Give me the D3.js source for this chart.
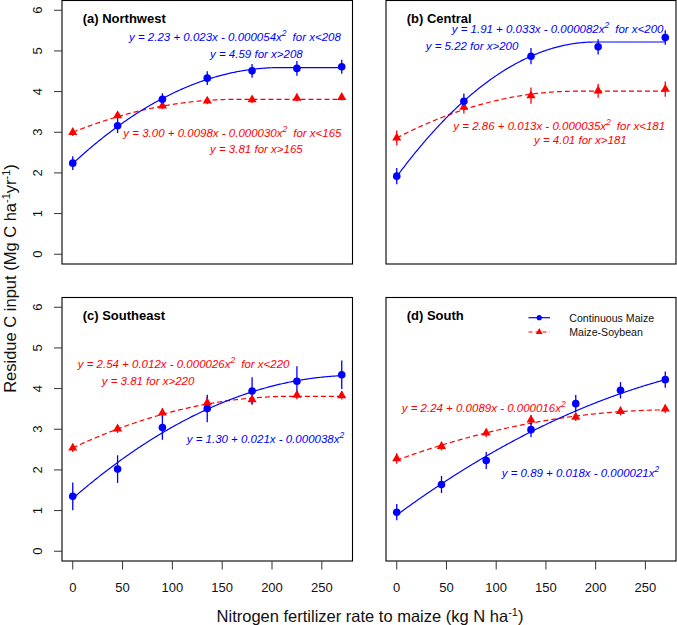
<!DOCTYPE html>
<html><head><meta charset="utf-8">
<script src="https://cdn.jsdelivr.net/npm/d3@7"></script>
<style>body{margin:0;background:#fff}svg{display:block}text{font-family:"Liberation Sans",Arial,sans-serif}</style>
</head><body>
<script>
// ---------------- DATA ----------------
const panelTitles = ["(a) Northwest", "(b) Central", "(c) Southeast", "(d) South"];
const nRates = [0, 45, 90, 135, 180, 225, 270];
const nRatesCentral = [0, 67.5, 135, 202.5, 270];
const xTicks = [0, 50, 100, 150, 200, 250];
const yTicks = [0, 1, 2, 3, 4, 5, 6];
const seriesNames = ["Continuous Maize", "Maize-Soybean"];

// Continuous maize (CM) and maize-soybean (MS) residue C input, with error bars
const cmNorthwest   = [2.24, 3.16, 3.81, 4.33, 4.51, 4.57, 4.61];
const cmNorthwestSE = [0.17, 0.18, 0.15, 0.17, 0.17, 0.18, 0.17];
const msNorthwest   = [3.00, 3.41, 3.65, 3.77, 3.80, 3.84, 3.86];
const msNorthwestSE = [0.09, 0.08, 0.08, 0.08, 0.08, 0.08, 0.08];

const cmCentral   = [1.92, 3.76, 4.87, 5.10, 5.33];
const cmCentralSE = [0.20, 0.19, 0.20, 0.19, 0.18];
const msCentral   = [2.86, 3.62, 3.90, 4.02, 4.06];
const msCentralSE = [0.18, 0.16, 0.20, 0.17, 0.19];

const cmSoutheast   = [1.35, 2.02, 3.04, 3.51, 3.94, 4.18, 4.34];
const cmSoutheastSE = [0.34, 0.34, 0.30, 0.34, 0.34, 0.37, 0.35];
const msSoutheast   = [2.54, 3.01, 3.40, 3.65, 3.73, 3.84, 3.83];
const msSoutheastSE = [0.10, 0.10, 0.12, 0.15, 0.10, 0.10, 0.10];

const cmSouth   = [0.96, 1.64, 2.23, 2.99, 3.63, 3.96, 4.22];
const cmSouthSE = [0.20, 0.21, 0.21, 0.18, 0.21, 0.20, 0.20];
const msSouth   = [2.28, 2.58, 2.91, 3.23, 3.30, 3.44, 3.50];
const msSouthSE = [0.13, 0.10, 0.10, 0.12, 0.10, 0.10, 0.10];

// Fitted models: quadratic-plateau [intercept, plateau, join] or quadratic [a, b, c]
const fitNorthwestCM = {type: "qp", a: 2.23, plateau: 4.59, join: 208};
const fitNorthwestMS = {type: "qp", a: 3.00, plateau: 3.81, join: 165};
const fitCentralCM   = {type: "qp", a: 1.91, plateau: 5.22, join: 200};
const fitCentralMS   = {type: "qp", a: 2.86, plateau: 4.01, join: 181};
const fitSoutheastCM = {type: "q", a: 1.30, b: 0.0213, c: -0.0000375};
const fitSoutheastMS = {type: "qp", a: 2.54, plateau: 3.81, join: 220};
const fitSouthCM     = {type: "q", a: 0.89, b: 0.018, c: -0.000021};
const fitSouthMS     = {type: "q", a: 2.24, b: 0.0089, c: -0.000016};

// Equation labels: [before superscript, superscript, after]
const eqNorthwestCM = [["y = 2.23 + 0.023x - 0.000054x", "2", "for x<208"], ["y = 4.59 for x>208"]];
const eqNorthwestMS = [["y = 3.00 + 0.0098x - 0.000030x", "2", "for x<165"], ["y = 3.81 for x>165"]];
const eqCentralCM   = [["y = 1.91 + 0.033x - 0.000082x", "2", "for x<200"], ["y = 5.22 for x>200"]];
const eqCentralMS   = [["y = 2.86 + 0.013x - 0.000035x", "2", "for x<181"], ["y = 4.01 for x>181"]];
const eqSoutheastMS = [["y = 2.54 + 0.012x - 0.000026x", "2", "for x<220"], ["y = 3.81 for x>220"]];
const eqSoutheastCM = [["y = 1.30 + 0.021x - 0.000038x", "2", ""]];
const eqSouthMS     = [["y = 2.24 + 0.0089x - 0.000016x", "2", ""]];
const eqSouthCM     = [["y = 0.89 + 0.018x - 0.000021x", "2", ""]];

// ---------------- LAYOUT ----------------
const W = 677, H = 625;
const BLUE = "#0000ff", RED = "#ff0000";
const cols = [[62, 352.5], [386, 676]];
const rows = [[0.5, 264], [297.5, 561]];

const panels = [
  {title: panelTitles[0], col: 0, row: 0, x: nRates, cm: cmNorthwest, cmSE: cmNorthwestSE, ms: msNorthwest, msSE: msNorthwestSE,
   fitCM: fitNorthwestCM, fitMS: fitNorthwestMS,
   eqs: [{lines: eqNorthwestCM, color: BLUE, pos: [[129, 40.5], [210, 58]]},
         {lines: eqNorthwestMS, color: RED, pos: [[123.3, 137], [210, 153]]}]},
  {title: panelTitles[1], col: 1, row: 0, x: nRatesCentral, cm: cmCentral, cmSE: cmCentralSE, ms: msCentral, msSE: msCentralSE,
   fitCM: fitCentralCM, fitMS: fitCentralMS,
   eqs: [{lines: eqCentralCM, color: BLUE, pos: [[451.7, 32.5], [425.7, 50]]},
         {lines: eqCentralMS, color: RED, pos: [[453.3, 130], [534, 144]]}]},
  {title: panelTitles[2], col: 0, row: 1, x: nRates, cm: cmSoutheast, cmSE: cmSoutheastSE, ms: msSoutheast, msSE: msSoutheastSE,
   fitCM: fitSoutheastCM, fitMS: fitSoutheastMS,
   eqs: [{lines: eqSoutheastMS, color: RED, pos: [[77.7, 368], [101.7, 384.5]]},
         {lines: eqSoutheastCM, color: BLUE, pos: [[186.7, 443]]}]},
  {title: panelTitles[3], col: 1, row: 1, x: nRates, cm: cmSouth, cmSE: cmSouthSE, ms: msSouth, msSE: msSouthSE,
   fitCM: fitSouthCM, fitMS: fitSouthMS,
   eqs: [{lines: eqSouthMS, color: RED, pos: [[401.7, 411.5]]},
         {lines: eqSouthCM, color: BLUE, pos: [[501.7, 476.5]]}], legend: true}
];

function fitValue(f, x) {
  if (f.type === "qp") {
    const m = Math.min(x, f.join);
    return f.plateau - (f.plateau - f.a) * Math.pow(1 - m / f.join, 2);
  }
  return f.a + f.b * x + f.c * x * x;
}

const svg = d3.select("body").append("svg").attr("width", W).attr("height", H);
const triangle = d3.symbol().type(d3.symbolTriangle).size(36);

panels.forEach(p => {
  const [x0, x1] = cols[p.col], [y0, y1] = rows[p.row];
  const xs = d3.scaleLinear().domain([-10.8, 280.8]).range([x0, x1]);
  const ys = d3.scaleLinear().domain([-0.24, 6.24]).range([y1, y0]);
  const g = svg.append("g");

  // fitted curves
  const grid = d3.range(0, 270.01, 1);
  const lineGen = f => d3.line().x(d => xs(d)).y(d => ys(fitValue(f, d)))(grid);
  g.append("path").attr("d", lineGen(p.fitMS)).attr("fill", "none")
    .attr("stroke", RED).attr("stroke-width", 1.2).attr("stroke-dasharray", "5,3");
  g.append("path").attr("d", lineGen(p.fitCM)).attr("fill", "none")
    .attr("stroke", BLUE).attr("stroke-width", 1.2);

  // error bars
  const eb = (vals, se, color) => {
    g.selectAll(null).data(vals).enter().append("line")
      .attr("x1", (d, i) => xs(p.x[i])).attr("x2", (d, i) => xs(p.x[i]))
      .attr("y1", (d, i) => ys(d - se[i])).attr("y2", (d, i) => ys(d + se[i]))
      .attr("stroke", color).attr("stroke-width", 1.3);
  };
  eb(p.ms, p.msSE, RED);
  eb(p.cm, p.cmSE, BLUE);

  // points
  g.selectAll(null).data(p.ms).enter().append("path")
    .attr("d", triangle).attr("fill", RED)
    .attr("transform", (d, i) => `translate(${xs(p.x[i])},${ys(d)})`);
  g.selectAll(null).data(p.cm).enter().append("circle")
    .attr("cx", (d, i) => xs(p.x[i])).attr("cy", d => ys(d)).attr("r", 3.8).attr("fill", BLUE);

  // box
  g.append("rect").attr("x", x0).attr("y", y0).attr("width", x1 - x0).attr("height", y1 - y0)
    .attr("fill", "none").attr("stroke", "#000").attr("stroke-width", 1.1);

  // title
  g.append("text").attr("x", x0 + 20.7).attr("y", y0 + 22)
    .attr("font-size", 13).attr("font-weight", "bold").attr("fill", "#000").text(p.title);

  // equations
  p.eqs.forEach(eq => {
    eq.lines.forEach((ln, k) => {
      const t = g.append("text").attr("x", eq.pos[k][0]).attr("y", eq.pos[k][1])
        .attr("font-size", 11.5).attr("font-style", "italic").attr("fill", eq.color);
      t.append("tspan").text(ln[0]);
      if (ln.length > 1) {
        t.append("tspan").attr("dy", -5).attr("font-size", 8.5).text(ln[1]);
        if (ln[2]) t.append("tspan").attr("dy", 5).attr("dx", 6).text(ln[2]);
      }
    });
  });

  // y axis (left column)
  if (p.col === 0) {
    yTicks.forEach(v => {
      g.append("line").attr("x1", x0).attr("x2", x0 - 8).attr("y1", ys(v)).attr("y2", ys(v))
        .attr("stroke", "#333").attr("stroke-width", 1);
      g.append("text").attr("transform", `translate(41.5,${ys(v)}) rotate(-90)`)
        .attr("text-anchor", "middle").attr("font-size", 13).attr("fill", "#111").text(v);
    });
  }
  // x axis (bottom row)
  if (p.row === 1) {
    xTicks.forEach(v => {
      g.append("line").attr("x1", xs(v)).attr("x2", xs(v)).attr("y1", y1).attr("y2", y1 + 8.5)
        .attr("stroke", "#333").attr("stroke-width", 1);
      g.append("text").attr("x", xs(v)).attr("y", 591.5).attr("text-anchor", "middle")
        .attr("font-size", 13).attr("fill", "#111").text(v);
    });
  }

  // legend
  if (p.legend) {
    const lx0 = 528.5, lx1 = 550, tx = 569.3;
    const ly = [317.7, 332];
    g.append("line").attr("x1", lx0).attr("x2", lx1).attr("y1", ly[0]).attr("y2", ly[0])
      .attr("stroke", BLUE).attr("stroke-width", 1.2);
    g.append("circle").attr("cx", (lx0 + lx1) / 2).attr("cy", ly[0]).attr("r", 2.6).attr("fill", BLUE);
    g.append("line").attr("x1", lx0).attr("x2", lx1).attr("y1", ly[1]).attr("y2", ly[1])
      .attr("stroke", RED).attr("stroke-width", 1.2).attr("stroke-dasharray", "4,3");
    g.append("path").attr("d", d3.symbol().type(d3.symbolTriangle).size(20)())
      .attr("transform", `translate(${(lx0 + lx1) / 2},${ly[1]})`).attr("fill", RED);
    seriesNames.forEach((s, i) => {
      g.append("text").attr("x", tx).attr("y", ly[i] + 3.8).attr("font-size", 10.6)
        .attr("fill", "#111").text(s);
    });
  }
});

// axis titles
const yt = svg.append("text").attr("transform", "translate(15.5,278.5) rotate(-90)")
  .attr("text-anchor", "middle").attr("font-size", 16.5).attr("fill", "#111");
yt.append("tspan").text("Residue C input (Mg C ha");
yt.append("tspan").attr("dy", -6).attr("font-size", 11).text("-1");
yt.append("tspan").attr("dy", 6).text("yr");
yt.append("tspan").attr("dy", -6).attr("font-size", 11).text("-1");
yt.append("tspan").attr("dy", 6).text(")");

const xt = svg.append("text").attr("x", 370).attr("y", 621.5)
  .attr("text-anchor", "middle").attr("font-size", 16.5).attr("fill", "#111");
xt.append("tspan").text("Nitrogen fertilizer rate to maize (kg N ha");
xt.append("tspan").attr("dy", -6).attr("font-size", 11).text("-1");
xt.append("tspan").attr("dy", 6).text(")");
</script>
</body></html>
